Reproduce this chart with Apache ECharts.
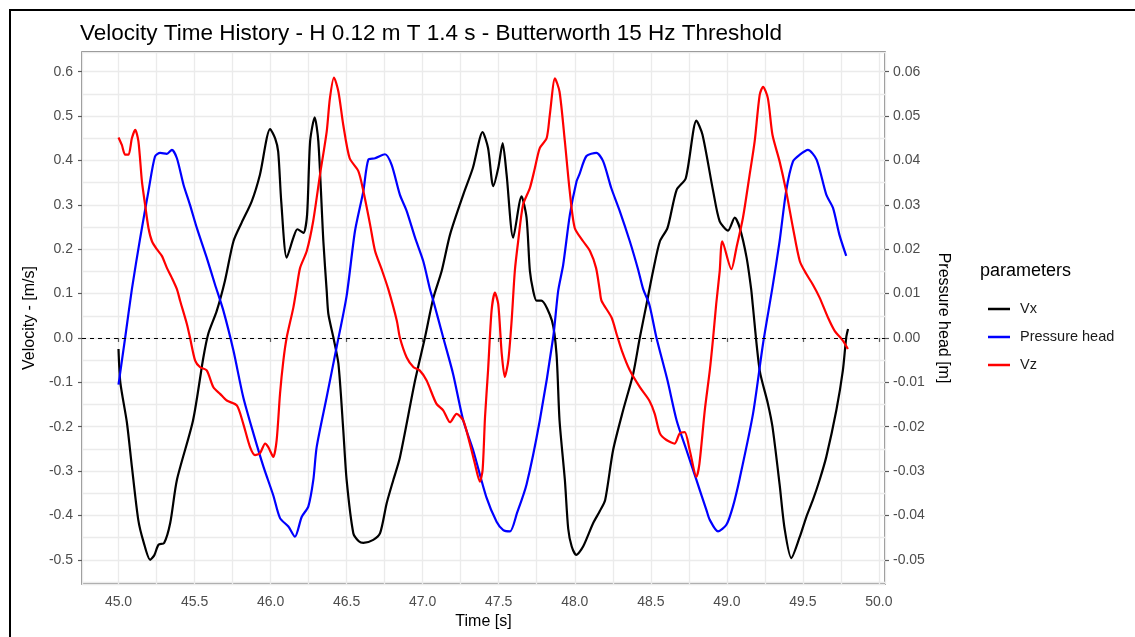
<!DOCTYPE html>
<html>
<head>
<meta charset="utf-8">
<title>Velocity Time History</title>
<script src="https://cdn.jsdelivr.net/npm/echarts@6/dist/echarts.min.js"></script>
<style>
  html, body { margin: 0; padding: 0; background: #ffffff; }
  #chart { width: 1135px; height: 637px; }
</style>
</head>
<body>
<div id="chart"></div>
<script>
// Horizontal velocity Vx [m/s] : [time s, value]
const vx = [
  [45.000,-0.025],[45.012,-0.100],[45.055,-0.190],[45.088,-0.290],[45.130,-0.410],[45.165,-0.460],
  [45.208,-0.500],[45.235,-0.490],[45.263,-0.466],[45.300,-0.462],[45.340,-0.417],[45.384,-0.320],
  [45.490,-0.186],[45.558,-0.044],[45.590,0.009],[45.646,0.061],[45.700,0.129],[45.756,0.218],
  [45.810,0.260],[45.876,0.308],[45.930,0.368],[45.997,0.471],[46.030,0.450],[46.050,0.420],
  [46.070,0.308],[46.106,0.181],[46.150,0.226],[46.176,0.245],[46.216,0.237],[46.240,0.278],
  [46.260,0.443],[46.290,0.497],[46.314,0.443],[46.347,0.218],[46.369,0.106],[46.380,0.054],
  [46.413,0.001],[46.446,-0.058],[46.478,-0.208],[46.500,-0.320],[46.544,-0.440],[46.580,-0.458],
  [46.610,-0.462],[46.675,-0.455],[46.720,-0.440],[46.763,-0.373],[46.807,-0.320],[46.850,-0.270],
  [46.950,-0.096],[47.015,0.001],[47.070,0.090],[47.125,0.151],[47.180,0.233],[47.267,0.323],
  [47.330,0.383],[47.394,0.464],[47.430,0.428],[47.464,0.342],[47.497,0.383],[47.526,0.439],
  [47.552,0.368],[47.595,0.226],[47.650,0.319],[47.683,0.271],[47.705,0.151],[47.727,0.106],
  [47.749,0.084],[47.780,0.084],[47.850,0.039],[47.880,-0.036],[47.900,-0.186],[47.935,-0.320],
  [47.957,-0.430],[47.980,-0.470],[48.010,-0.489],[48.055,-0.470],[48.120,-0.418],[48.165,-0.390],
  [48.200,-0.365],[48.252,-0.253],[48.318,-0.163],[48.384,-0.081],[48.428,0.001],[48.472,0.076],
  [48.515,0.151],[48.560,0.218],[48.610,0.248],[48.670,0.334],[48.730,0.360],[48.800,0.490],
  [48.840,0.458],[48.910,0.331],[48.953,0.263],[49.008,0.242],[49.052,0.271],[49.085,0.248],
  [49.130,0.181],[49.160,0.110],[49.170,0.076],[49.216,-0.073],[49.270,-0.148],[49.300,-0.200],
  [49.347,-0.330],[49.380,-0.430],[49.424,-0.496],[49.480,-0.448],[49.523,-0.403],[49.566,-0.365],
  [49.610,-0.320],[49.654,-0.268],[49.720,-0.163],[49.763,-0.073],[49.785,0.001],[49.797,0.020]
];

// Pressure head [m] : [time s, value]
const pressureHead = [
  [45.000,-0.0105],[45.044,0.0001],[45.088,0.0110],[45.143,0.0226],[45.197,0.0331],[45.240,0.0409],
  [45.274,0.0417],[45.318,0.0415],[45.351,0.0424],[45.384,0.0405],[45.427,0.0346],[45.470,0.0300],
  [45.515,0.0248],[45.580,0.0181],[45.635,0.0120],[45.690,0.0061],[45.756,-0.0029],[45.820,-0.0133],
  [45.887,-0.0215],[45.953,-0.0290],[46.018,-0.0355],[46.062,-0.0406],[46.117,-0.0425],[46.160,-0.0448],
  [46.205,-0.0403],[46.248,-0.0380],[46.281,-0.0320],[46.303,-0.0246],[46.369,-0.0133],[46.434,-0.0021],
  [46.500,0.0095],[46.555,0.0241],[46.610,0.0331],[46.643,0.0402],[46.687,0.0405],[46.752,0.0414],
  [46.796,0.0390],[46.850,0.0323],[46.895,0.0286],[46.950,0.0226],[47.004,0.0173],[47.048,0.0110],
  [47.070,0.0084],[47.135,0.0001],[47.200,-0.0081],[47.267,-0.0186],[47.332,-0.0253],[47.420,-0.0360],
  [47.486,-0.0414],[47.530,-0.0433],[47.574,-0.0436],[47.620,-0.0395],[47.683,-0.0330],[47.770,-0.0186],
  [47.858,0.0001],[47.891,0.0106],[47.924,0.0165],[47.968,0.0278],[48.012,0.0353],[48.030,0.0368],
  [48.077,0.0410],[48.143,0.0417],[48.187,0.0398],[48.240,0.0338],[48.296,0.0286],[48.362,0.0218],
  [48.416,0.0155],[48.450,0.0110],[48.490,0.0076],[48.537,0.0001],[48.610,-0.0096],[48.670,-0.0186],
  [48.735,-0.0253],[48.800,-0.0320],[48.866,-0.0388],[48.888,-0.0410],[48.942,-0.0436],[48.997,-0.0421],
  [49.040,-0.0380],[49.085,-0.0316],[49.172,-0.0171],[49.238,-0.0013],[49.300,0.0114],[49.347,0.0218],
  [49.390,0.0331],[49.435,0.0398],[49.480,0.0413],[49.533,0.0424],[49.590,0.0402],[49.654,0.0323],
  [49.698,0.0293],[49.740,0.0233],[49.785,0.0185]
];

// Vertical velocity Vz [m/s] : [time s, value]
const vz = [
  [45.000,0.452],[45.022,0.435],[45.044,0.413],[45.066,0.413],[45.088,0.450],[45.110,0.469],
  [45.131,0.443],[45.154,0.353],[45.175,0.300],[45.197,0.248],[45.220,0.218],[45.252,0.200],
  [45.285,0.185],[45.318,0.158],[45.350,0.136],[45.384,0.110],[45.405,0.084],[45.450,0.031],
  [45.470,0.001],[45.504,-0.051],[45.537,-0.066],[45.580,-0.073],[45.624,-0.111],[45.668,-0.126],
  [45.712,-0.141],[45.778,-0.152],[45.820,-0.193],[45.865,-0.246],[45.898,-0.264],[45.930,-0.260],
  [45.964,-0.238],[45.985,-0.246],[46.018,-0.268],[46.040,-0.230],[46.062,-0.126],[46.084,-0.051],
  [46.106,0.001],[46.150,0.069],[46.172,0.114],[46.194,0.158],[46.238,0.196],[46.280,0.263],
  [46.325,0.368],[46.369,0.465],[46.390,0.540],[46.417,0.587],[46.446,0.555],[46.478,0.480],
  [46.520,0.405],[46.577,0.376],[46.610,0.331],[46.654,0.256],[46.687,0.196],[46.730,0.155],
  [46.774,0.110],[46.830,0.039],[46.850,0.001],[46.895,-0.044],[46.940,-0.066],[46.980,-0.073],
  [47.026,-0.096],[47.090,-0.148],[47.135,-0.163],[47.180,-0.190],[47.223,-0.171],[47.267,-0.186],
  [47.310,-0.238],[47.343,-0.283],[47.376,-0.324],[47.394,-0.298],[47.410,-0.178],[47.430,-0.073],
  [47.453,0.061],[47.475,0.102],[47.497,0.076],[47.520,-0.036],[47.540,-0.088],[47.563,-0.051],
  [47.585,0.039],[47.606,0.151],[47.628,0.218],[47.660,0.300],[47.705,0.338],[47.738,0.383],
  [47.770,0.428],[47.815,0.450],[47.836,0.503],[47.870,0.585],[47.900,0.555],[47.935,0.443],
  [47.967,0.331],[48.000,0.248],[48.055,0.218],[48.100,0.196],[48.140,0.158],[48.165,0.106],
  [48.176,0.084],[48.242,0.046],[48.275,0.009],[48.310,-0.029],[48.362,-0.073],[48.428,-0.111],
  [48.490,-0.141],[48.526,-0.171],[48.560,-0.215],[48.603,-0.230],[48.657,-0.238],[48.690,-0.215],
  [48.723,-0.212],[48.756,-0.253],[48.800,-0.313],[48.820,-0.283],[48.855,-0.163],[48.888,-0.073],
  [48.910,0.001],[48.930,0.076],[48.953,0.150],[48.970,0.218],[49.030,0.155],[49.063,0.203],
  [49.106,0.271],[49.150,0.368],[49.183,0.443],[49.216,0.548],[49.238,0.566],[49.270,0.540],
  [49.300,0.458],[49.347,0.398],[49.390,0.331],[49.435,0.248],[49.480,0.173],[49.523,0.144],
  [49.566,0.120],[49.610,0.091],[49.665,0.046],[49.709,0.016],[49.763,-0.006],[49.796,-0.025]
];

// Tick labels
const timeTicks = [45.0, 45.5, 46.0, 46.5, 47.0, 47.5, 48.0, 48.5, 49.0, 49.5, 50.0];
const velocityTicks = [-0.5, -0.4, -0.3, -0.2, -0.1, 0.0, 0.1, 0.2, 0.3, 0.4, 0.5, 0.6];
const pressureTicks = [-0.05, -0.04, -0.03, -0.02, -0.01, 0.00, 0.01, 0.02, 0.03, 0.04, 0.05, 0.06];

// Axis ranges (data range padded by 5% on each side)
const timeRange = [44.76, 50.04];
const velocityRange = [-0.5545, 0.6445];
const pressureRange = [velocityRange[0] / 10, velocityRange[1] / 10];

const FONT = '"Liberation Sans", Arial, sans-serif';
const TICK_COLOR = '#4d4d4d';
const FRAME_COLOR = '#5a5a5a';
const GRID_COLOR = '#ebebeb';

const chart = echarts.init(document.getElementById('chart'), null, { renderer: 'canvas' });

function near(v, step) {
  return Math.abs(v / step - Math.round(v / step)) < 1e-6;
}

const gridAxisCommon = {
  axisLine: { show: false },
  axisTick: { show: false },
  axisLabel: { show: false },
  splitLine: { show: true, lineStyle: { color: GRID_COLOR, width: 1.3 } }
};

const option = {
  animation: false,
  backgroundColor: '#ffffff',
  textStyle: { fontFamily: FONT },
  title: {
    text: 'Velocity Time History - H 0.12 m T 1.4 s - Butterworth 15 Hz Threshold',
    left: 75,
    top: 17,
    textStyle: { fontFamily: FONT, fontSize: 22.5, fontWeight: 'normal', color: '#000000' }
  },
  grid: {
    left: 82, top: 52, right: 250, bottom: 53,
    show: true, borderColor: FRAME_COLOR, borderWidth: 1.3, backgroundColor: 'transparent'
  },
  legend: {
    orient: 'vertical',
    left: 983,
    top: 296,
    icon: 'rect',
    itemWidth: 22,
    itemHeight: 2.5,
    itemGap: 12,
    data: ['Vx', 'Pressure head', 'Vz'],
    textStyle: { fontFamily: FONT, fontSize: 14.5, color: '#1a1a1a', padding: [0, 0, 0, 5], lineHeight: 16 }
  },
  graphic: [
    { type: 'text', left: 980, top: 262, style: { text: 'parameters', fontFamily: FONT, fontSize: 18, fill: '#000000' } },
    { type: 'rect', shape: { x: 10, y: 10, width: 1140, height: 700 }, style: { fill: 'none', stroke: '#000000', lineWidth: 2 }, silent: true }
  ],
  xAxis: [
    {
      type: 'value', min: timeRange[0], max: timeRange[1],
      minInterval: 0.5, maxInterval: 0.5,
      name: 'Time [s]', nameLocation: 'middle', nameGap: 28,
      nameTextStyle: { fontFamily: FONT, fontSize: 16, color: '#000000' },
      axisLine: { show: false },
      axisTick: { show: true, length: 4, customValues: timeTicks, lineStyle: { color: FRAME_COLOR, width: 1.2 } },
      axisLabel: {
        customValues: timeTicks, margin: 11, color: TICK_COLOR, fontSize: 14, fontFamily: FONT,
        formatter: v => near(v, 0.5) ? v.toFixed(1) : ''
      },
      splitLine: { show: false }
    },
    Object.assign({ type: 'value', min: timeRange[0], max: timeRange[1], minInterval: 0.25, maxInterval: 0.25, position: 'bottom' }, gridAxisCommon)
  ],
  yAxis: [
    {
      type: 'value', min: velocityRange[0], max: velocityRange[1],
      minInterval: 0.1, maxInterval: 0.1,
      name: 'Velocity - [m/s]', nameLocation: 'middle', nameGap: 42, nameRotate: 90,
      nameTextStyle: { fontFamily: FONT, fontSize: 16, color: '#000000' },
      axisLine: { show: false },
      axisTick: { show: true, length: 4, customValues: velocityTicks, lineStyle: { color: FRAME_COLOR, width: 1.2 } },
      axisLabel: {
        customValues: velocityTicks, margin: 9, color: TICK_COLOR, fontSize: 14, fontFamily: FONT,
        formatter: v => near(v, 0.1) ? (Math.abs(v) < 1e-9 ? '0.0' : v.toFixed(1)) : ''
      },
      splitLine: { show: false }
    },
    {
      type: 'value', min: pressureRange[0], max: pressureRange[1], position: 'right',
      minInterval: 0.01, maxInterval: 0.01,
      name: 'Pressure head [m]', nameLocation: 'middle', nameGap: 39, nameRotate: -90,
      nameTextStyle: { fontFamily: FONT, fontSize: 16, color: '#000000' },
      axisLine: { show: false },
      axisTick: { show: true, length: 4, customValues: pressureTicks, lineStyle: { color: FRAME_COLOR, width: 1.2 } },
      axisLabel: {
        customValues: pressureTicks, margin: 8, color: TICK_COLOR, fontSize: 14, fontFamily: FONT,
        formatter: v => near(v, 0.01) ? (Math.abs(v) < 1e-9 ? '0.00' : v.toFixed(2)) : ''
      },
      splitLine: { show: false }
    },
    Object.assign({ type: 'value', min: velocityRange[0], max: velocityRange[1], minInterval: 0.05, maxInterval: 0.05, position: 'left' }, gridAxisCommon)
  ],
  series: [
    {
      name: 'Vx', type: 'line', data: vx, xAxisIndex: 0, yAxisIndex: 0,
      showSymbol: false, smooth: 0.25, z: 3,
      lineStyle: { color: '#000000', width: 2.2 }, itemStyle: { color: '#000000' },
      markLine: {
        silent: true, symbol: ['none', 'none'], label: { show: false },
        lineStyle: { color: '#000000', width: 1, type: [4, 4] },
        data: [{ yAxis: 0 }]
      }
    },
    {
      name: 'Pressure head', type: 'line', data: pressureHead, xAxisIndex: 0, yAxisIndex: 1,
      showSymbol: false, smooth: 0.25, z: 3,
      lineStyle: { color: '#0000ff', width: 2.2 }, itemStyle: { color: '#0000ff' }
    },
    {
      name: 'Vz', type: 'line', data: vz, xAxisIndex: 0, yAxisIndex: 0,
      showSymbol: false, smooth: 0.25, z: 3,
      lineStyle: { color: '#ff0000', width: 2.2 }, itemStyle: { color: '#ff0000' }
    }
  ]
};

chart.setOption(option);
</script>
</body>
</html>
